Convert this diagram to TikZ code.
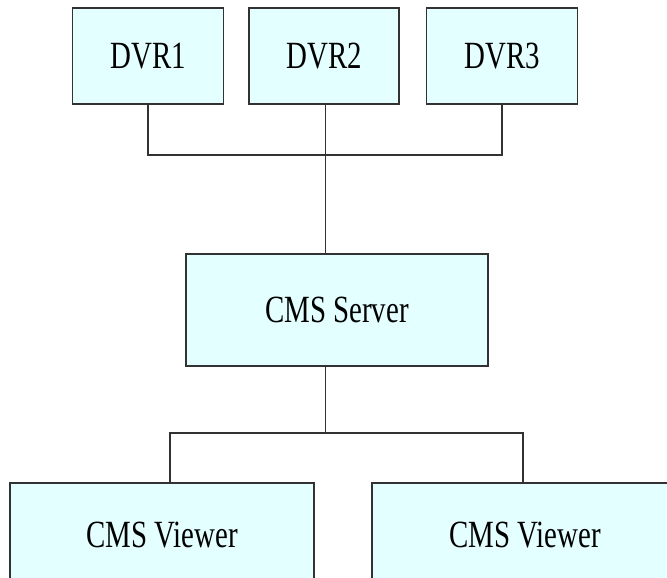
\documentclass[tikz,border=0pt]{standalone}
\usepackage{fontspec}
\newfontfamily\boxfont[FakeStretch=0.75]{Liberation Serif}
\usetikzlibrary{positioning,calc}
\definecolor{boxfill}{RGB}{228,255,255}
\definecolor{wire}{RGB}{50,50,50}

\begin{document}
\begin{tikzpicture}[x=1pt,y=1pt,
boxnode/.style={rectangle, draw=wire, fill=boxfill, line width=1.5pt, inner sep=0pt, font=\boxfont\fontsize{38.5pt}{40pt}\selectfont},
wireline/.style={draw=wire, line width=1.5pt},
]
\useasboundingbox (0,0) rectangle (667,578);
\clip (0,0) rectangle (667,578);

% recorders on top
\node[boxnode, minimum width=151pt, minimum height=96pt] (dvr1) at (148.2,522) {DVR1};
\node[boxnode, minimum width=150pt, minimum height=96pt] (dvr2) at (324.2,522) {DVR2};
\node[boxnode, minimum width=151pt, minimum height=96pt] (dvr3) at (502.2,522) {DVR3};

\node[boxnode, minimum width=302pt, minimum height=112pt] (server) at (337,268) {CMS Server};

\node[boxnode, minimum width=304pt, minimum height=104pt] (view1) at (162,43) {CMS Viewer};
\node[boxnode, minimum width=306pt, minimum height=104pt] (view2) at (525,43) {CMS Viewer};

\coordinate (top bus) at (325.5,423);
\coordinate (low bus) at (325.5,145);
\coordinate (v1 drop) at (170,145);
\coordinate (v2 drop) at (523,145);

\draw[wireline] (dvr1.south) |- (top bus) -| (dvr3.south);
\draw[wireline] (top bus |- dvr2.south) -- (top bus) -- (top bus |- server.north);
\draw[wireline] (low bus |- server.south) -- (low bus);
\draw[wireline] (v1 drop |- view1.north) -- (v1 drop) -- (v2 drop) -- (v2 drop |- view2.north);

%\draw[red] (0,0) -- (10,0);
\end{tikzpicture}
\end{document}
